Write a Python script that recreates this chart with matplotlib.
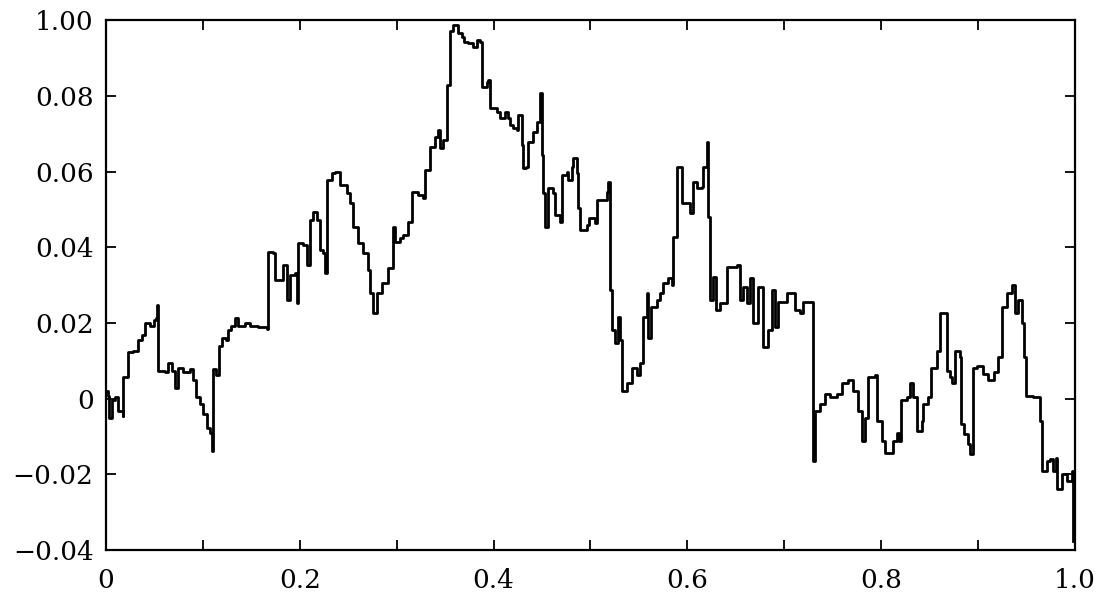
import numpy as np
import matplotlib.pyplot as plt

plt.rcParams['font.family'] = ['DejaVu Serif']

# sample path: time and value, drawn as a step function
t = [0.000, 0.002, 0.003, 0.006, 0.009, 0.012, 0.017, 0.018, 0.023, 0.028,
     0.033, 0.037, 0.040, 0.045, 0.049, 0.052, 0.053, 0.054, 0.061, 0.064,
     0.068, 0.071, 0.074, 0.079, 0.087, 0.090, 0.093, 0.097, 0.100, 0.104,
     0.107, 0.109, 0.110, 0.114, 0.117, 0.120, 0.124, 0.126, 0.129, 0.133,
     0.136, 0.143, 0.149, 0.157, 0.166, 0.167, 0.172, 0.174, 0.180, 0.183,
     0.187, 0.190, 0.195, 0.197, 0.198, 0.203, 0.207, 0.211, 0.214, 0.218,
     0.221, 0.224, 0.226, 0.228, 0.233, 0.236, 0.241, 0.249, 0.252, 0.255,
     0.260, 0.265, 0.270, 0.272, 0.276, 0.280, 0.285, 0.291, 0.296, 0.298,
     0.303, 0.307, 0.312, 0.316, 0.322, 0.327, 0.329, 0.334, 0.340, 0.343,
     0.345, 0.348, 0.352, 0.355, 0.358, 0.363, 0.367, 0.370, 0.374, 0.379,
     0.383, 0.386, 0.388, 0.393, 0.394, 0.396, 0.404, 0.407, 0.412, 0.415,
     0.417, 0.420, 0.424, 0.425, 0.429, 0.430, 0.434, 0.436, 0.441, 0.445,
     0.448, 0.450, 0.451, 0.453, 0.456, 0.461, 0.463, 0.469, 0.471, 0.476,
     0.477, 0.481, 0.482, 0.486, 0.487, 0.489, 0.496, 0.499, 0.505, 0.507,
     0.512, 0.517, 0.518, 0.520, 0.522, 0.525, 0.528, 0.530, 0.533, 0.538,
     0.543, 0.548, 0.551, 0.554, 0.558, 0.559, 0.563, 0.569, 0.572, 0.575,
     0.580, 0.584, 0.585, 0.589, 0.594, 0.595, 0.603, 0.606, 0.610, 0.615,
     0.616, 0.620, 0.621, 0.623, 0.626, 0.630, 0.634, 0.641, 0.651, 0.654,
     0.657, 0.662, 0.665, 0.668, 0.673, 0.678, 0.683, 0.687, 0.690, 0.694,
     0.703, 0.708, 0.711, 0.716, 0.719, 0.727, 0.730, 0.732, 0.737, 0.742,
     0.747, 0.754, 0.760, 0.766, 0.771, 0.776, 0.780, 0.783, 0.786, 0.794,
     0.796, 0.801, 0.804, 0.812, 0.816, 0.819, 0.821, 0.827, 0.830, 0.833,
     0.837, 0.842, 0.843, 0.848, 0.852, 0.858, 0.861, 0.866, 0.868, 0.871,
     0.873, 0.876, 0.881, 0.883, 0.886, 0.890, 0.892, 0.895, 0.899, 0.905,
     0.910, 0.917, 0.921, 0.925, 0.930, 0.935, 0.938, 0.941, 0.945, 0.948,
     0.950, 0.957, 0.964, 0.966, 0.971, 0.974, 0.977, 0.981, 0.982, 0.987,
     0.992, 0.997, 0.998]
x = [0.0021, 0.0008, -0.0050, -0.0005, 0.0003, -0.0032, -0.0045, 0.0056, 0.0122, 0.0127,
     0.0154, 0.0167, 0.0199, 0.0193, 0.0207, 0.0212, 0.0246, 0.0074, 0.0069, 0.0095,
     0.0074, 0.0029, 0.0082, 0.0069, 0.0079, 0.0048, 0.0003, -0.0013, -0.0040, -0.0077,
     -0.0090, -0.0138, 0.0079, 0.0061, 0.0140, 0.0159, 0.0154, 0.0180, 0.0193, 0.0212,
     0.0193, 0.0201, 0.0193, 0.0188, 0.0185, 0.0387, 0.0384, 0.0313, 0.0313, 0.0352,
     0.0260, 0.0326, 0.0331, 0.0252, 0.0411, 0.0405, 0.0352, 0.0472, 0.0493, 0.0472,
     0.0392, 0.0384, 0.0331, 0.0577, 0.0596, 0.0599, 0.0564, 0.0543, 0.0517, 0.0453,
     0.0411, 0.0384, 0.0339, 0.0278, 0.0225, 0.0278, 0.0305, 0.0344, 0.0453, 0.0413,
     0.0424, 0.0432, 0.0466, 0.0546, 0.0538, 0.0530, 0.0604, 0.0665, 0.0691, 0.0710,
     0.0662, 0.0683, 0.0829, 0.0970, 0.0988, 0.0967, 0.0956, 0.0943, 0.0940, 0.0930,
     0.0948, 0.0943, 0.0824, 0.0837, 0.0842, 0.0768, 0.0758, 0.0742, 0.0758, 0.0742,
     0.0723, 0.0715, 0.0710, 0.0750, 0.0670, 0.0609, 0.0612, 0.0678, 0.0705, 0.0731,
     0.0808, 0.0644, 0.0543, 0.0453, 0.0556, 0.0543, 0.0485, 0.0466, 0.0591, 0.0599,
     0.0577, 0.0612, 0.0636, 0.0596, 0.0503, 0.0445, 0.0458, 0.0477, 0.0464, 0.0525,
     0.0525, 0.0546, 0.0572, 0.0286, 0.0180, 0.0146, 0.0215, 0.0154, 0.0021, 0.0040,
     0.0082, 0.0061, 0.0093, 0.0215, 0.0278, 0.0159, 0.0241, 0.0260, 0.0278, 0.0305,
     0.0318, 0.0299, 0.0426, 0.0612, 0.0604, 0.0517, 0.0490, 0.0572, 0.0556, 0.0559,
     0.0612, 0.0678, 0.0479, 0.0260, 0.0321, 0.0233, 0.0252, 0.0347, 0.0352, 0.0260,
     0.0294, 0.0252, 0.0318, 0.0199, 0.0294, 0.0135, 0.0180, 0.0286, 0.0188, 0.0254,
     0.0278, 0.0278, 0.0233, 0.0225, 0.0254, 0.0254, -0.0164, -0.0032, -0.0013, 0.0013,
     0.0003, 0.0013, 0.0040, 0.0048, 0.0021, -0.0032, -0.0111, -0.0050, 0.0056, 0.0061,
     -0.0058, -0.0111, -0.0143, -0.0111, -0.0090, -0.0111, -0.0005, 0.0003, 0.0040, 0.0003,
     -0.0085, -0.0058, -0.0013, 0.0003, 0.0082, 0.0127, 0.0225, 0.0225, 0.0074, 0.0056,
     0.0042, 0.0127, 0.0109, -0.0066, -0.0093, -0.0119, -0.0146, 0.0082, 0.0087, 0.0066,
     0.0048, 0.0069, 0.0109, 0.0241, 0.0278, 0.0299, 0.0225, 0.0260, 0.0199, 0.0109,
     0.0008, 0.0003, -0.0058, -0.0191, -0.0164, -0.0159, -0.0191, -0.0156, -0.0238, -0.0199,
     -0.0217, -0.0191, -0.0376]

yticks = [-0.04, -0.02, 0, 0.02, 0.04, 0.06, 0.08, 0.10]
ytick_labels = ['\u22120.04', '\u22120.02', '0', '0.02', '0.04', '0.06', '0.08', '1.00']
xticks = [0, 0.2, 0.4, 0.6, 0.8, 1.0]
xtick_labels = ['0', '0.2', '0.4', '0.6', '0.8', '1.0']

fig = plt.figure(figsize=(10.99, 5.92), dpi=100)
ax = fig.add_axes([0.0965, 0.071, 0.8815, 0.895])

ax.plot(t, x, color='black', lw=2.0, drawstyle='steps-post')

ax.set_xlim(0, 1.0)
ax.set_ylim(-0.04, 0.10)
ax.set_xticks(xticks)
ax.set_xticklabels(xtick_labels)
ax.set_xticks(np.arange(0.1, 1.0, 0.2), minor=True)
ax.set_yticks(yticks)
ax.set_yticklabels(ytick_labels)

ax.tick_params(which='both', direction='in', top=True, right=True,
               length=7, width=1.3, labelsize=19)
ax.tick_params(axis='y', pad=9)
ax.tick_params(axis='x', pad=13)
for s in ax.spines.values():
    s.set_linewidth(1.6)

fig.savefig('out.png', dpi=100)
